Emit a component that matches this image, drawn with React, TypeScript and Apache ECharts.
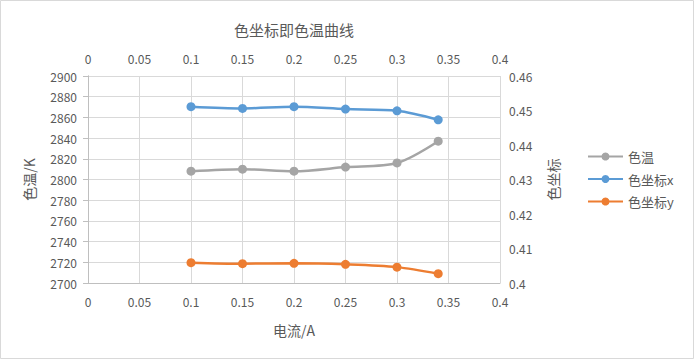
import React, { useEffect, useRef } from "react";
import * as echarts from "echarts";

const currents = [0.1, 0.15, 0.2, 0.25, 0.3, 0.34];
const colorTemp = [2808, 2810, 2808, 2812, 2816, 2837];
const coordX = [0.4511, 0.4506, 0.4511, 0.4504, 0.4499, 0.4473];
const coordY = [0.4059, 0.4056, 0.4057, 0.4054, 0.4046, 0.4027];
const seriesNames = ["色温", "色坐标x", "色坐标y"];
const titleText = "色坐标即色温曲线";
const xName = "电流/A";
const yLeftName = "色温/K";
const yRightName = "色坐标";

const FONT = "'Noto Sans CJK SC', 'Noto Sans', sans-serif";
const TXT = "#595959";
const GRID = "#d9d9d9";
const AXIS = "#bfbfbf";

const fmt = (v: number) => String(parseFloat(v.toFixed(2)));

export default function App() {
  const ref = useRef<HTMLDivElement>(null);
  useEffect(() => {
    document.body.style.margin = "0";
    const chart = echarts.init(ref.current!, null, { renderer: "svg" });
    const pair = (ys: number[]) => currents.map((c, i) => [c, ys[i]]);
    const xBase = {
      type: "value" as const,
      min: 0,
      max: 0.4,
      interval: 0.05,
      axisLabel: { color: TXT, fontSize: 12, fontFamily: FONT, margin: 12, formatter: fmt },
      axisTick: { show: false },
    };
    const lineSeries = (name: string, data: number[][], color: string, xi: number, yi: number) => ({
      name,
      type: "line",
      data,
      xAxisIndex: xi,
      yAxisIndex: yi,
      smooth: 0.3,
      symbol: "circle",
      symbolSize: 9,
      itemStyle: { color },
      lineStyle: { color, width: 2.5 },
    });
    chart.setOption({
      animation: false,
      backgroundColor: "#fff",
      title: {
        text: titleText,
        left: 294,
        textAlign: "center",
        top: 22,
        padding: 0,
        textStyle: { color: TXT, fontSize: 15, fontWeight: "normal", fontFamily: FONT },
      },
      legend: {
        orient: "vertical",
        left: 587,
        top: 150,
        padding: 0,
        itemWidth: 35,
        itemHeight: 10,
        itemGap: 9.5,
        data: seriesNames,
        textStyle: { color: TXT, fontSize: 13, fontFamily: FONT },
      },
      grid: { left: 88, right: 194, top: 76, bottom: 76, containLabel: false },
      xAxis: [
        {
          ...xBase,
          position: "bottom",
          name: xName,
          nameLocation: "middle",
          nameGap: 40,
          nameTextStyle: { color: TXT, fontSize: 14, fontFamily: FONT },
          axisLine: { show: true, lineStyle: { color: AXIS, width: 1 } },
          splitLine: { show: true, lineStyle: { color: GRID, width: 1 } },
        },
        {
          ...xBase,
          position: "top",
          axisLine: { show: false },
          splitLine: { show: false },
        },
      ],
      yAxis: [
        {
          type: "value",
          min: 2700,
          max: 2900,
          interval: 20,
          position: "left",
          name: yLeftName,
          nameLocation: "middle",
          nameGap: 52,
          nameRotate: 90,
          nameTextStyle: { color: TXT, fontSize: 14, fontFamily: FONT },
          axisLabel: { color: TXT, fontSize: 12, fontFamily: FONT, margin: 11, formatter: (v: number) => String(v) },
          axisLine: { show: true, lineStyle: { color: AXIS, width: 1 } },
          axisTick: { show: true, inside: false, length: 5, lineStyle: { color: AXIS } },
          splitLine: { show: true, lineStyle: { color: GRID, width: 1 } },
        },
        {
          type: "value",
          min: 0.4,
          max: 0.46,
          interval: 0.01,
          position: "right",
          name: yRightName,
          nameLocation: "middle",
          nameGap: 46,
          nameRotate: 90,
          nameTextStyle: { color: TXT, fontSize: 14, fontFamily: FONT },
          axisLabel: { color: TXT, fontSize: 12, fontFamily: FONT, margin: 9, formatter: fmt },
          axisLine: { show: true, lineStyle: { color: AXIS, width: 1 } },
          axisTick: { show: false },
          splitLine: { show: false },
        },
      ],
      graphic: [
        {
          type: "rect",
          shape: { x: 0.5, y: 0.5, width: 693, height: 358 },
          style: { fill: "none", stroke: GRID, lineWidth: 1 },
          silent: true,
        },
      ],
      series: [
        lineSeries(seriesNames[0], pair(colorTemp), "#a5a5a5", 0, 0),
        lineSeries(seriesNames[1], pair(coordX), "#5b9bd5", 1, 1),
        lineSeries(seriesNames[2], pair(coordY), "#ed7d31", 1, 1),
      ],
    });
    return () => chart.dispose();
  }, []);
  return <div ref={ref} style={{ width: 694, height: 359 }} />;
}
